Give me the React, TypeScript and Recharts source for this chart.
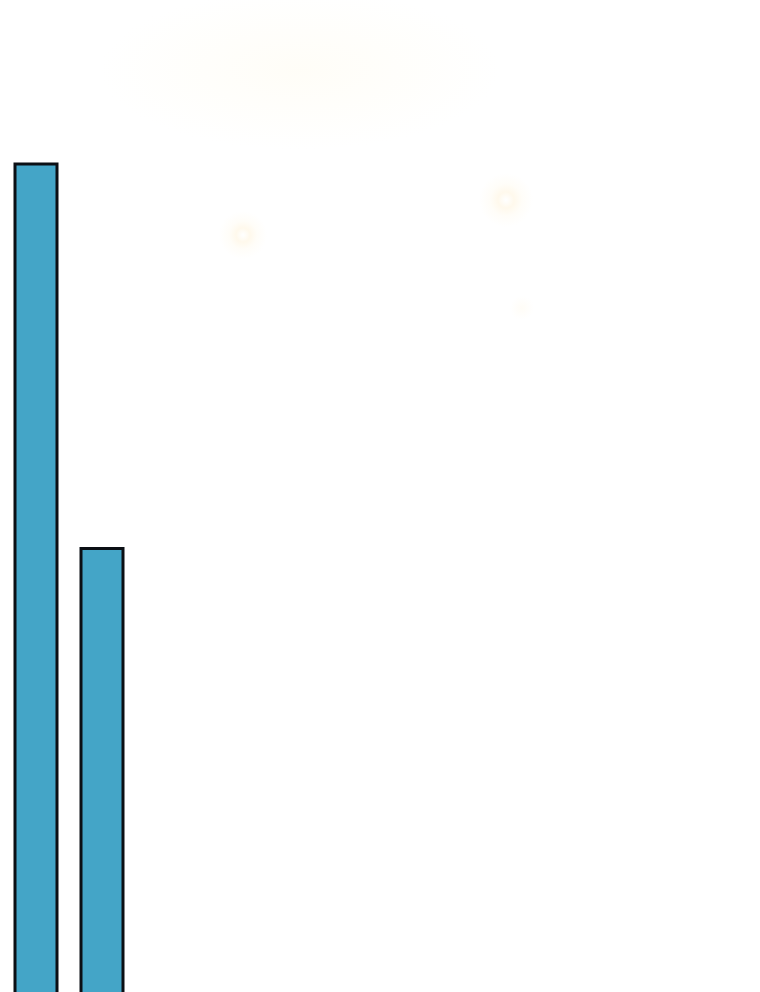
import React from "react";
import { BarChart, Bar, XAxis, YAxis } from "recharts";

const categories = ["A", "B"];
const values = [100, 54];

const data = categories.map((c, i) => ({ name: c, value: values[i] }));

const bg =
  "radial-gradient(circle at 243px 235px, rgba(255,255,255,1) 0px, rgba(255,246,228,0.7) 7px, rgba(255,250,238,0.4) 14px, rgba(255,255,255,0) 24px)," +
  "radial-gradient(circle at 506px 200px, rgba(255,255,255,1) 0px, rgba(255,246,228,0.7) 8px, rgba(255,250,238,0.4) 16px, rgba(255,255,255,0) 27px)," +
  "radial-gradient(circle at 522px 308px, rgba(255,250,238,0.5) 0px, rgba(255,255,255,0) 12px)," +
  "radial-gradient(ellipse 200px 80px at 300px 70px, rgba(255,252,242,0.6) 0px, rgba(255,255,255,0) 100%)," +
  "#ffffff";

export default function App() {
  return (
    <div style={{ position: "fixed", left: 0, top: 0, width: 760, height: 992, overflow: "hidden", background: bg }}>
      <BarChart
        width={760}
        height={1000}
        data={data}
        margin={{ top: 164, right: 625, bottom: 0, left: 3 }}
        barCategoryGap={0}
      >
        <XAxis dataKey="name" hide />
        <YAxis hide domain={[0, 100]} />
        <Bar
          dataKey="value"
          barSize={42}
          fill="#44a5c7"
          stroke="#0b0f14"
          strokeWidth={3}
          isAnimationActive={false}
        />
      </BarChart>
    </div>
  );
}
